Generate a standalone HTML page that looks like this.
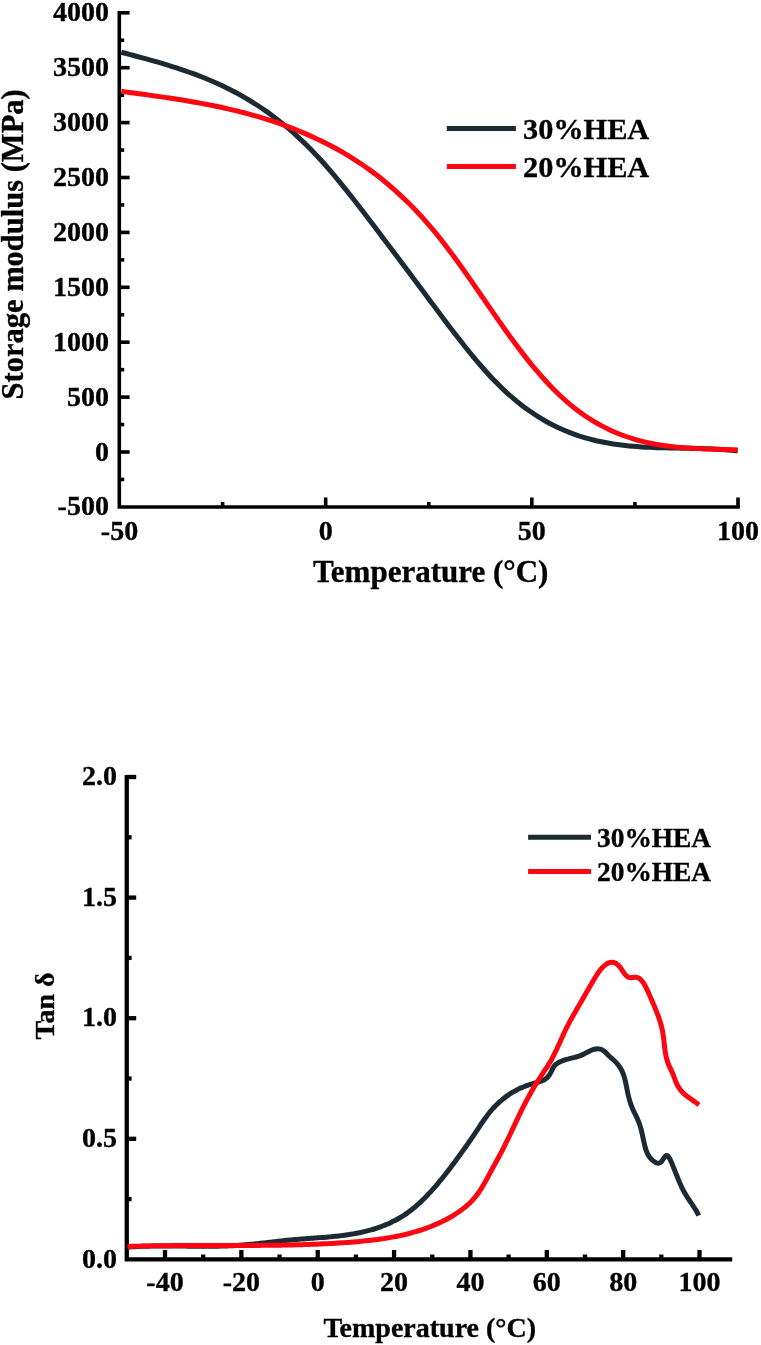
<!DOCTYPE html><html><head><meta charset="utf-8"><style>html,body{margin:0;padding:0;background:#fff;}svg{display:block;will-change:transform;}</style></head><body>
<svg width="761" height="1345" viewBox="0 0 761 1345">
<rect width="761" height="1345" fill="#fff"/>
<g stroke="#000" stroke-width="3.6" fill="none" stroke-linecap="butt">
<path d="M119.3,11 V508.8 M117.5,507 H739.8"/>
<path d="M119.3,452.00 H129.6"/>
<path d="M119.3,397.10 H129.6"/>
<path d="M119.3,342.20 H129.6"/>
<path d="M119.3,287.30 H129.6"/>
<path d="M119.3,232.40 H129.6"/>
<path d="M119.3,177.50 H129.6"/>
<path d="M119.3,122.60 H129.6"/>
<path d="M119.3,67.70 H129.6"/>
<path d="M119.3,12.80 H129.6"/>
<path d="M119.3,479.45 H124.2"/>
<path d="M119.3,424.55 H124.2"/>
<path d="M119.3,369.65 H124.2"/>
<path d="M119.3,314.75 H124.2"/>
<path d="M119.3,259.85 H124.2"/>
<path d="M119.3,204.95 H124.2"/>
<path d="M119.3,150.05 H124.2"/>
<path d="M119.3,95.15 H124.2"/>
<path d="M119.3,40.25 H124.2"/>
<path d="M325.67,507 V497.5"/>
<path d="M531.83,507 V497.5"/>
<path d="M738.00,507 V497.5"/>
<path d="M222.58,507 V502"/>
<path d="M428.75,507 V502"/>
<path d="M634.91,507 V502"/>
</g>
<g font-family="Liberation Serif" font-weight="bold" stroke="#000" stroke-width="0.35" font-size="28" fill="#000" text-anchor="end">
<text x="108.9" y="515.4">-500</text>
<text x="108.9" y="460.5">0</text>
<text x="108.9" y="405.6">500</text>
<text x="108.9" y="350.7">1000</text>
<text x="108.9" y="295.8">1500</text>
<text x="108.9" y="240.9">2000</text>
<text x="108.9" y="186.0">2500</text>
<text x="108.9" y="131.1">3000</text>
<text x="108.9" y="76.2">3500</text>
<text x="108.9" y="21.3">4000</text>
</g>
<g font-family="Liberation Serif" font-weight="bold" stroke="#000" stroke-width="0.35" font-size="28" fill="#000" text-anchor="middle">
<text x="119.5" y="540">-50</text>
<text x="325.7" y="540">0</text>
<text x="531.8" y="540">50</text>
<text x="738.0" y="540">100</text>
</g>
<text font-family="Liberation Serif" font-weight="bold" stroke="#000" stroke-width="0.35" font-size="31" x="313" y="581.5">Temperature (°C)</text>
<text font-family="Liberation Serif" font-weight="bold" stroke="#000" stroke-width="0.35" font-size="30.5" transform="translate(23.3,399.4) rotate(-90)">Storage modulus (MPa)</text>
<path d="M446.8,128.6 H515.9" stroke="#1c2a33" stroke-width="5"/>
<path d="M446.8,166.4 H515.9" stroke="#fd0511" stroke-width="5"/>
<text font-family="Liberation Serif" font-weight="bold" stroke="#000" stroke-width="0.35" font-size="30.3" x="523" y="139">30%HEA</text>
<text font-family="Liberation Serif" font-weight="bold" stroke="#000" stroke-width="0.35" font-size="30.3" x="523" y="177">20%HEA</text>
<path d="M121.30,52.22 C123.97,52.93 126.63,53.63 129.30,54.34 C131.97,55.05 134.63,55.76 137.30,56.48 C139.97,57.20 142.63,57.92 145.30,58.66 C147.97,59.39 150.63,60.13 153.30,60.89 C155.97,61.65 158.63,62.41 161.30,63.20 C163.97,63.99 166.63,64.79 169.30,65.61 C171.97,66.44 174.63,67.28 177.30,68.15 C179.97,69.02 182.63,69.91 185.30,70.83 C187.97,71.75 190.63,72.70 193.30,73.68 C195.97,74.67 198.63,75.68 201.30,76.73 C203.97,77.78 206.63,78.86 209.30,79.98 C211.97,81.11 214.63,82.27 217.30,83.48 C219.97,84.68 222.63,85.93 225.30,87.23 C227.97,88.52 230.63,89.86 233.30,91.26 C235.97,92.65 238.63,94.09 241.30,95.59 C243.97,97.09 246.63,98.64 249.30,100.25 C251.97,101.86 254.63,103.53 257.30,105.26 C259.97,106.99 262.63,108.78 265.30,110.63 C267.97,112.49 270.63,114.41 273.30,116.40 C275.97,118.40 278.63,120.45 281.30,122.59 C283.97,124.72 286.63,126.93 289.30,129.21 C291.97,131.49 294.63,133.85 297.30,136.29 C299.97,138.73 302.63,141.25 305.30,143.85 C307.97,146.46 310.63,149.14 313.30,151.92 C315.97,154.69 318.63,157.56 321.30,160.50 C323.97,163.45 326.63,166.48 329.30,169.57 C331.97,172.66 334.63,175.83 337.30,179.04 C339.97,182.26 342.63,185.55 345.30,188.87 C347.97,192.19 350.63,195.57 353.30,198.97 C355.97,202.38 358.63,205.83 361.30,209.29 C363.97,212.76 366.63,216.26 369.30,219.76 C371.97,223.27 374.63,226.79 377.30,230.32 C379.97,233.84 382.63,237.37 385.30,240.91 C387.97,244.44 390.63,247.98 393.30,251.53 C395.97,255.07 398.63,258.62 401.30,262.18 C403.97,265.74 406.63,269.30 409.30,272.86 C411.97,276.43 414.63,280.00 417.30,283.57 C419.97,287.15 422.63,290.73 425.30,294.32 C427.97,297.90 430.63,301.50 433.30,305.08 C435.97,308.66 438.63,312.25 441.30,315.80 C443.97,319.36 446.63,322.91 449.30,326.41 C451.97,329.92 454.63,333.41 457.30,336.84 C459.97,340.27 462.63,343.67 465.30,347.01 C467.97,350.34 470.63,353.63 473.30,356.84 C475.97,360.04 478.63,363.20 481.30,366.25 C483.97,369.31 486.63,372.30 489.30,375.19 C491.97,378.07 494.63,380.87 497.30,383.56 C499.97,386.24 502.63,388.83 505.30,391.30 C507.97,393.78 510.63,396.14 513.30,398.41 C515.97,400.68 518.63,402.84 521.30,404.90 C523.97,406.97 526.63,408.94 529.30,410.81 C531.97,412.69 534.63,414.46 537.30,416.16 C539.97,417.85 542.63,419.45 545.30,420.96 C547.97,422.48 550.63,423.91 553.30,425.25 C555.97,426.60 558.63,427.87 561.30,429.06 C563.97,430.25 566.63,431.36 569.30,432.40 C571.97,433.45 574.63,434.42 577.30,435.32 C579.97,436.23 582.63,437.06 585.30,437.84 C587.97,438.62 590.63,439.33 593.30,439.99 C595.97,440.65 598.63,441.25 601.30,441.81 C603.97,442.36 606.63,442.86 609.30,443.31 C611.97,443.77 614.63,444.18 617.30,444.55 C619.97,444.92 622.63,445.24 625.30,445.53 C627.97,445.83 630.63,446.08 633.30,446.31 C635.97,446.54 638.63,446.73 641.30,446.90 C643.97,447.07 646.63,447.21 649.30,447.34 C651.97,447.46 654.63,447.56 657.30,447.65 C659.97,447.74 662.63,447.81 665.30,447.87 C667.97,447.94 670.63,447.99 673.30,448.04 C675.97,448.09 678.63,448.13 681.30,448.17 C683.97,448.21 686.63,448.25 689.30,448.30 C691.97,448.35 694.63,448.40 697.30,448.47 C699.97,448.53 702.63,448.60 705.30,448.69 C707.97,448.78 710.63,448.88 713.30,449.01 C715.97,449.14 718.63,449.28 721.30,449.45 C723.97,449.62 726.58,449.81 729.30,450.04 C732.02,450.28 734.83,450.58 737.60,450.86" stroke="#1c2a33" stroke-width="5" fill="none"/>
<path d="M121.30,91.33 C123.97,91.69 126.63,92.05 129.30,92.41 C131.97,92.78 134.63,93.14 137.30,93.50 C139.97,93.86 142.63,94.23 145.30,94.59 C147.97,94.96 150.63,95.33 153.30,95.71 C155.97,96.09 158.63,96.47 161.30,96.85 C163.97,97.24 166.63,97.64 169.30,98.04 C171.97,98.44 174.63,98.85 177.30,99.27 C179.97,99.69 182.63,100.12 185.30,100.56 C187.97,101.01 190.63,101.46 193.30,101.92 C195.97,102.39 198.63,102.87 201.30,103.36 C203.97,103.86 206.63,104.37 209.30,104.89 C211.97,105.42 214.63,105.96 217.30,106.52 C219.97,107.08 222.63,107.65 225.30,108.25 C227.97,108.85 230.63,109.46 233.30,110.10 C235.97,110.74 238.63,111.39 241.30,112.08 C243.97,112.76 246.63,113.46 249.30,114.19 C251.97,114.92 254.63,115.67 257.30,116.45 C259.97,117.23 262.63,118.03 265.30,118.87 C267.97,119.70 270.63,120.56 273.30,121.45 C275.97,122.34 278.63,123.26 281.30,124.21 C283.97,125.16 286.63,126.14 289.30,127.15 C291.97,128.16 294.63,129.21 297.30,130.29 C299.97,131.37 302.63,132.48 305.30,133.63 C307.97,134.78 310.63,135.97 313.30,137.19 C315.97,138.41 318.63,139.67 321.30,140.98 C323.97,142.28 326.63,143.62 329.30,145.00 C331.97,146.39 334.63,147.82 337.30,149.30 C339.97,150.78 342.63,152.31 345.30,153.89 C347.97,155.47 350.63,157.10 353.30,158.79 C355.97,160.48 358.63,162.22 361.30,164.03 C363.97,165.83 366.63,167.69 369.30,169.62 C371.97,171.55 374.63,173.54 377.30,175.60 C379.97,177.66 382.63,179.79 385.30,181.99 C387.97,184.19 390.63,186.46 393.30,188.80 C395.97,191.15 398.63,193.57 401.30,196.07 C403.97,198.57 406.63,201.15 409.30,203.81 C411.97,206.47 414.63,209.21 417.30,212.05 C419.97,214.88 422.63,217.80 425.30,220.81 C427.97,223.82 430.63,226.91 433.30,230.11 C435.97,233.30 438.63,236.60 441.30,239.98 C443.97,243.36 446.63,246.85 449.30,250.39 C451.97,253.94 454.63,257.58 457.30,261.26 C459.97,264.94 462.63,268.70 465.30,272.48 C467.97,276.25 470.63,280.09 473.30,283.93 C475.97,287.77 478.63,291.64 481.30,295.51 C483.97,299.37 486.63,303.26 489.30,307.11 C491.97,310.97 494.63,314.83 497.30,318.63 C499.97,322.44 502.63,326.24 505.30,329.96 C507.97,333.69 510.63,337.38 513.30,341.00 C515.97,344.61 518.63,348.16 521.30,351.63 C523.97,355.10 526.63,358.50 529.30,361.81 C531.97,365.12 534.63,368.34 537.30,371.47 C539.97,374.59 542.63,377.63 545.30,380.55 C547.97,383.47 550.63,386.29 553.30,388.99 C555.97,391.69 558.63,394.28 561.30,396.75 C563.97,399.22 566.63,401.58 569.30,403.82 C571.97,406.06 574.63,408.19 577.30,410.21 C579.97,412.24 582.63,414.15 585.30,415.96 C587.97,417.77 590.63,419.48 593.30,421.10 C595.97,422.71 598.63,424.23 601.30,425.66 C603.97,427.09 606.63,428.42 609.30,429.68 C611.97,430.94 614.63,432.10 617.30,433.20 C619.97,434.29 622.63,435.30 625.30,436.25 C627.97,437.19 630.63,438.06 633.30,438.87 C635.97,439.67 638.63,440.41 641.30,441.09 C643.97,441.77 646.63,442.39 649.30,442.95 C651.97,443.52 654.63,444.03 657.30,444.49 C659.97,444.95 662.63,445.37 665.30,445.74 C667.97,446.11 670.63,446.44 673.30,446.74 C675.97,447.03 678.63,447.29 681.30,447.51 C683.97,447.74 686.63,447.94 689.30,448.11 C691.97,448.29 694.63,448.43 697.30,448.56 C699.97,448.70 702.63,448.80 705.30,448.91 C707.97,449.01 710.63,449.09 713.30,449.17 C715.97,449.26 718.63,449.33 721.30,449.40 C723.97,449.48 726.58,449.55 729.30,449.63 C732.02,449.71 734.83,449.81 737.60,449.90" stroke="#fd0511" stroke-width="5" fill="none"/>
<g stroke="#000" stroke-width="4.3" fill="none">
<path d="M126.75,775.1 V1261.5500000000002 M124.6,1259.4 H732.2"/>
<path d="M126.75,1138.80 H136.2"/>
<path d="M126.75,1018.20 H136.2"/>
<path d="M126.75,897.60 H136.2"/>
<path d="M126.75,777.00 H136.2"/>
<path d="M126.75,1199.10 H131.6"/>
<path d="M126.75,1078.50 H131.6"/>
<path d="M126.75,957.90 H131.6"/>
<path d="M126.75,837.30 H131.6"/>
<path d="M165.00,1259.4 V1250"/>
<path d="M241.36,1259.4 V1250"/>
<path d="M317.72,1259.4 V1250"/>
<path d="M394.08,1259.4 V1250"/>
<path d="M470.44,1259.4 V1250"/>
<path d="M546.80,1259.4 V1250"/>
<path d="M623.16,1259.4 V1250"/>
<path d="M699.52,1259.4 V1250"/>
<path d="M203.18,1259.4 V1254.5"/>
<path d="M279.54,1259.4 V1254.5"/>
<path d="M355.90,1259.4 V1254.5"/>
<path d="M432.26,1259.4 V1254.5"/>
<path d="M508.62,1259.4 V1254.5"/>
<path d="M584.98,1259.4 V1254.5"/>
<path d="M661.34,1259.4 V1254.5"/>
</g>
<g font-family="Liberation Serif" font-weight="bold" stroke="#000" stroke-width="0.35" font-size="28" fill="#000" text-anchor="end">
<text x="117" y="1267.6">0.0</text>
<text x="117" y="1147.0">0.5</text>
<text x="117" y="1026.4">1.0</text>
<text x="117" y="905.8">1.5</text>
<text x="117" y="785.2">2.0</text>
</g>
<g font-family="Liberation Serif" font-weight="bold" stroke="#000" stroke-width="0.35" font-size="28" fill="#000" text-anchor="middle">
<text x="165.0" y="1290.6">-40</text>
<text x="241.4" y="1290.6">-20</text>
<text x="317.7" y="1290.6">0</text>
<text x="394.1" y="1290.6">20</text>
<text x="470.4" y="1290.6">40</text>
<text x="546.8" y="1290.6">60</text>
<text x="623.2" y="1290.6">80</text>
<text x="699.5" y="1290.6">100</text>
</g>
<text font-family="Liberation Serif" font-weight="bold" stroke="#000" stroke-width="0.35" font-size="28" x="323.5" y="1337">Temperature (°C)</text>
<text font-family="Liberation Serif" font-weight="bold" stroke="#000" stroke-width="0.35" font-size="28" transform="translate(53.9,1039.6) rotate(-90)">Tan δ</text>
<path d="M528.1,837.2 H591" stroke="#1c2a33" stroke-width="5"/>
<path d="M528.1,871.4 H591" stroke="#fd0511" stroke-width="5"/>
<text font-family="Liberation Serif" font-weight="bold" stroke="#000" stroke-width="0.35" font-size="27.4" x="597" y="846.5">30%HEA</text>
<text font-family="Liberation Serif" font-weight="bold" stroke="#000" stroke-width="0.35" font-size="27.4" x="597" y="881">20%HEA</text>
<path d="M127.50,1247.20 C128.50,1247.13 129.49,1247.05 130.49,1246.98 C131.49,1246.91 132.48,1246.84 133.48,1246.78 C134.48,1246.72 135.48,1246.67 136.48,1246.61 C137.48,1246.56 138.48,1246.51 139.48,1246.47 C140.48,1246.42 141.48,1246.38 142.49,1246.34 C143.49,1246.30 144.49,1246.27 145.49,1246.24 C146.50,1246.21 147.50,1246.18 148.51,1246.15 C149.51,1246.13 150.52,1246.11 151.52,1246.09 C152.53,1246.07 153.53,1246.05 154.54,1246.04 C155.55,1246.02 156.55,1246.01 157.56,1246.00 C158.57,1245.99 159.58,1245.99 160.58,1245.98 C161.59,1245.98 162.60,1245.97 163.61,1245.97 C164.62,1245.97 165.63,1245.97 166.64,1245.97 C167.65,1245.97 168.66,1245.98 169.67,1245.98 C170.68,1245.99 171.69,1245.99 172.70,1246.00 C173.71,1246.01 174.72,1246.01 175.73,1246.02 C176.74,1246.03 177.75,1246.04 178.76,1246.05 C179.78,1246.06 180.79,1246.07 181.80,1246.08 C182.81,1246.09 183.82,1246.10 184.83,1246.11 C185.85,1246.12 186.86,1246.14 187.87,1246.15 C188.88,1246.16 189.89,1246.17 190.91,1246.18 C191.92,1246.19 192.93,1246.20 193.94,1246.21 C194.96,1246.21 195.97,1246.22 196.98,1246.23 C197.99,1246.24 199.00,1246.24 200.02,1246.25 C201.03,1246.25 202.04,1246.26 203.05,1246.26 C204.06,1246.26 205.07,1246.26 206.09,1246.26 C207.10,1246.26 208.11,1246.26 209.12,1246.25 C210.13,1246.25 211.14,1246.24 212.15,1246.23 C213.16,1246.23 214.17,1246.21 215.18,1246.20 C216.19,1246.19 217.20,1246.17 218.21,1246.15 C219.22,1246.14 220.23,1246.11 221.24,1246.09 C222.25,1246.07 223.26,1246.04 224.27,1246.01 C225.27,1245.98 226.28,1245.95 227.29,1245.91 C228.30,1245.87 229.30,1245.83 230.31,1245.79 C231.32,1245.74 232.32,1245.70 233.33,1245.65 C234.33,1245.59 235.34,1245.54 236.34,1245.48 C237.35,1245.42 238.35,1245.36 239.36,1245.29 C240.36,1245.22 241.36,1245.15 242.36,1245.07 C243.37,1244.99 244.37,1244.91 245.37,1244.83 C246.37,1244.74 247.37,1244.65 248.37,1244.56 C249.37,1244.47 250.37,1244.38 251.37,1244.28 C252.37,1244.18 253.37,1244.08 254.37,1243.98 C255.37,1243.87 256.37,1243.77 257.37,1243.66 C258.37,1243.55 259.37,1243.44 260.37,1243.33 C261.37,1243.22 262.37,1243.11 263.36,1243.00 C264.36,1242.88 265.36,1242.77 266.36,1242.66 C267.36,1242.54 268.36,1242.42 269.36,1242.31 C270.36,1242.19 271.35,1242.08 272.35,1241.96 C273.35,1241.85 274.35,1241.73 275.35,1241.62 C276.35,1241.50 277.35,1241.39 278.35,1241.27 C279.35,1241.16 280.35,1241.05 281.35,1240.94 C282.36,1240.83 283.36,1240.72 284.36,1240.61 C285.36,1240.51 286.36,1240.40 287.37,1240.30 C288.37,1240.20 289.37,1240.10 290.38,1240.00 C291.38,1239.90 292.38,1239.81 293.39,1239.72 C294.40,1239.63 295.40,1239.54 296.41,1239.45 C297.41,1239.37 298.42,1239.28 299.43,1239.20 C300.44,1239.12 301.44,1239.04 302.45,1238.97 C303.46,1238.89 304.47,1238.81 305.48,1238.74 C306.49,1238.66 307.50,1238.59 308.50,1238.52 C309.51,1238.44 310.52,1238.37 311.53,1238.30 C312.54,1238.23 313.55,1238.15 314.56,1238.08 C315.57,1238.01 316.58,1237.93 317.59,1237.86 C318.59,1237.78 319.60,1237.71 320.61,1237.63 C321.62,1237.55 322.63,1237.48 323.63,1237.39 C324.64,1237.31 325.65,1237.23 326.65,1237.15 C327.66,1237.06 328.66,1236.97 329.67,1236.88 C330.67,1236.79 331.68,1236.70 332.68,1236.60 C333.69,1236.50 334.69,1236.40 335.69,1236.29 C336.69,1236.19 337.69,1236.08 338.69,1235.96 C339.69,1235.85 340.69,1235.73 341.69,1235.61 C342.69,1235.48 343.68,1235.36 344.68,1235.22 C345.67,1235.09 346.67,1234.95 347.66,1234.80 C348.65,1234.65 349.64,1234.50 350.63,1234.34 C351.62,1234.18 352.61,1234.02 353.60,1233.85 C354.59,1233.67 355.57,1233.49 356.56,1233.31 C357.54,1233.12 358.52,1232.92 359.50,1232.72 C360.48,1232.52 361.46,1232.30 362.44,1232.08 C363.41,1231.86 364.39,1231.64 365.36,1231.40 C366.34,1231.16 367.31,1230.91 368.28,1230.66 C369.24,1230.40 370.21,1230.13 371.17,1229.86 C372.14,1229.58 373.10,1229.29 374.06,1228.99 C375.02,1228.70 375.98,1228.39 376.93,1228.07 C377.89,1227.75 378.84,1227.42 379.79,1227.08 C380.74,1226.73 381.69,1226.38 382.63,1226.02 C383.57,1225.65 384.51,1225.28 385.45,1224.89 C386.38,1224.50 387.32,1224.10 388.24,1223.69 C389.17,1223.28 390.09,1222.86 391.00,1222.43 C391.92,1221.99 392.83,1221.55 393.73,1221.09 C394.64,1220.63 395.54,1220.17 396.43,1219.69 C397.32,1219.21 398.20,1218.71 399.08,1218.21 C399.96,1217.71 400.83,1217.19 401.69,1216.67 C402.55,1216.14 403.41,1215.60 404.25,1215.05 C405.10,1214.50 405.93,1213.94 406.76,1213.36 C407.59,1212.79 408.41,1212.20 409.22,1211.60 C410.02,1211.00 410.82,1210.39 411.61,1209.77 C412.40,1209.15 413.19,1208.52 413.96,1207.88 C414.73,1207.24 415.50,1206.59 416.25,1205.93 C417.01,1205.27 417.76,1204.60 418.50,1203.92 C419.25,1203.24 419.98,1202.56 420.71,1201.87 C421.44,1201.18 422.16,1200.48 422.88,1199.77 C423.60,1199.07 424.31,1198.36 425.01,1197.64 C425.72,1196.93 426.42,1196.21 427.12,1195.48 C427.81,1194.75 428.51,1194.02 429.19,1193.29 C429.88,1192.56 430.56,1191.82 431.24,1191.07 C431.92,1190.33 432.59,1189.58 433.26,1188.83 C433.93,1188.08 434.59,1187.32 435.25,1186.56 C435.91,1185.80 436.57,1185.04 437.22,1184.27 C437.88,1183.51 438.53,1182.74 439.17,1181.96 C439.82,1181.19 440.46,1180.41 441.10,1179.63 C441.73,1178.85 442.37,1178.07 443.00,1177.28 C443.63,1176.50 444.26,1175.71 444.89,1174.92 C445.51,1174.13 446.14,1173.33 446.76,1172.54 C447.38,1171.74 447.99,1170.94 448.61,1170.14 C449.22,1169.34 449.83,1168.54 450.44,1167.74 C451.05,1166.93 451.66,1166.12 452.27,1165.32 C452.87,1164.51 453.47,1163.70 454.08,1162.89 C454.68,1162.08 455.28,1161.27 455.87,1160.46 C456.47,1159.64 457.07,1158.83 457.66,1158.01 C458.26,1157.20 458.85,1156.38 459.44,1155.57 C460.03,1154.75 460.62,1153.93 461.21,1153.12 C461.80,1152.30 462.39,1151.48 462.97,1150.66 C463.56,1149.84 464.14,1149.02 464.72,1148.20 C465.30,1147.37 465.88,1146.55 466.46,1145.73 C467.04,1144.90 467.62,1144.08 468.19,1143.25 C468.77,1142.43 469.34,1141.60 469.91,1140.77 C470.49,1139.95 471.06,1139.12 471.62,1138.29 C472.19,1137.46 472.76,1136.63 473.32,1135.79 C473.88,1134.96 474.45,1134.13 475.01,1133.29 C475.57,1132.46 476.13,1131.62 476.68,1130.79 C477.24,1129.95 477.79,1129.11 478.35,1128.28 C478.90,1127.44 479.46,1126.60 480.02,1125.77 C480.57,1124.93 481.13,1124.10 481.70,1123.27 C482.26,1122.44 482.83,1121.61 483.40,1120.78 C483.97,1119.96 484.55,1119.14 485.14,1118.33 C485.72,1117.51 486.31,1116.70 486.92,1115.90 C487.52,1115.10 488.13,1114.30 488.75,1113.51 C489.37,1112.73 490.01,1111.94 490.65,1111.17 C491.30,1110.40 491.96,1109.64 492.63,1108.89 C493.30,1108.14 493.99,1107.39 494.69,1106.66 C495.39,1105.93 496.10,1105.21 496.83,1104.50 C497.56,1103.80 498.30,1103.10 499.05,1102.42 C499.80,1101.73 500.56,1101.06 501.34,1100.40 C502.12,1099.75 502.90,1099.10 503.70,1098.47 C504.50,1097.84 505.31,1097.23 506.12,1096.63 C506.94,1096.03 507.77,1095.44 508.61,1094.87 C509.45,1094.30 510.30,1093.75 511.15,1093.21 C512.01,1092.67 512.88,1092.15 513.75,1091.65 C514.62,1091.15 515.51,1090.66 516.40,1090.20 C517.29,1089.73 518.18,1089.28 519.09,1088.85 C519.99,1088.42 520.90,1088.01 521.82,1087.62 C522.74,1087.22 523.66,1086.85 524.59,1086.48 C525.52,1086.12 526.46,1085.77 527.40,1085.43 C528.34,1085.10 529.29,1084.77 530.24,1084.46 C531.19,1084.14 532.15,1083.84 533.11,1083.54 C534.07,1083.24 535.04,1082.95 536.01,1082.67 C536.98,1082.38 537.96,1082.12 538.93,1081.82 C539.90,1081.53 540.88,1081.26 541.81,1080.90 C542.74,1080.54 543.67,1080.17 544.52,1079.67 C545.38,1079.17 546.19,1078.59 546.93,1077.91 C547.67,1077.22 548.35,1076.41 548.97,1075.58 C549.58,1074.75 550.11,1073.82 550.61,1072.90 C551.11,1071.99 551.50,1071.01 551.96,1070.10 C552.41,1069.19 552.82,1068.25 553.35,1067.42 C553.88,1066.58 554.45,1065.79 555.14,1065.09 C555.82,1064.39 556.63,1063.78 557.45,1063.22 C558.28,1062.67 559.19,1062.19 560.10,1061.75 C561.01,1061.31 561.95,1060.93 562.90,1060.58 C563.85,1060.23 564.81,1059.93 565.78,1059.64 C566.75,1059.36 567.74,1059.11 568.72,1058.85 C569.70,1058.60 570.70,1058.37 571.68,1058.13 C572.66,1057.89 573.65,1057.66 574.62,1057.40 C575.60,1057.14 576.57,1056.88 577.52,1056.57 C578.47,1056.27 579.41,1055.94 580.34,1055.58 C581.26,1055.21 582.16,1054.80 583.07,1054.37 C583.97,1053.95 584.86,1053.49 585.77,1053.03 C586.67,1052.58 587.57,1052.10 588.50,1051.65 C589.43,1051.19 590.38,1050.71 591.34,1050.31 C592.30,1049.91 593.29,1049.49 594.28,1049.23 C595.26,1048.96 596.26,1048.73 597.25,1048.70 C598.23,1048.67 599.23,1048.78 600.17,1049.04 C601.12,1049.30 602.06,1049.76 602.91,1050.27 C603.76,1050.79 604.53,1051.46 605.28,1052.14 C606.03,1052.81 606.70,1053.60 607.42,1054.32 C608.13,1055.05 608.83,1055.79 609.57,1056.49 C610.31,1057.18 611.10,1057.82 611.86,1058.49 C612.62,1059.15 613.40,1059.78 614.14,1060.47 C614.88,1061.16 615.60,1061.86 616.28,1062.60 C616.96,1063.34 617.61,1064.11 618.22,1064.91 C618.84,1065.71 619.42,1066.53 619.96,1067.38 C620.50,1068.22 621.01,1069.09 621.47,1069.98 C621.94,1070.87 622.36,1071.78 622.74,1072.70 C623.13,1073.62 623.47,1074.56 623.79,1075.51 C624.11,1076.46 624.39,1077.43 624.66,1078.40 C624.92,1079.37 625.16,1080.35 625.39,1081.34 C625.62,1082.33 625.82,1083.32 626.02,1084.32 C626.23,1085.31 626.42,1086.31 626.62,1087.31 C626.81,1088.31 627.00,1089.31 627.21,1090.30 C627.41,1091.29 627.61,1092.28 627.83,1093.27 C628.05,1094.26 628.27,1095.24 628.51,1096.22 C628.75,1097.20 628.99,1098.17 629.26,1099.14 C629.52,1100.10 629.80,1101.07 630.10,1102.02 C630.40,1102.98 630.72,1103.92 631.06,1104.86 C631.40,1105.81 631.77,1106.74 632.15,1107.66 C632.54,1108.59 632.95,1109.50 633.37,1110.42 C633.79,1111.33 634.23,1112.24 634.67,1113.15 C635.11,1114.05 635.56,1114.96 635.99,1115.87 C636.43,1116.78 636.87,1117.69 637.29,1118.61 C637.70,1119.53 638.11,1120.45 638.49,1121.38 C638.87,1122.32 639.23,1123.26 639.56,1124.21 C639.89,1125.17 640.19,1126.13 640.47,1127.10 C640.76,1128.07 641.02,1129.05 641.27,1130.03 C641.52,1131.01 641.75,1132.00 641.98,1132.99 C642.20,1133.98 642.42,1134.97 642.63,1135.96 C642.84,1136.95 643.05,1137.95 643.26,1138.94 C643.47,1139.92 643.68,1140.91 643.90,1141.90 C644.12,1142.88 644.34,1143.86 644.58,1144.83 C644.82,1145.80 645.07,1146.76 645.34,1147.72 C645.61,1148.67 645.89,1149.62 646.22,1150.54 C646.54,1151.47 646.89,1152.39 647.31,1153.28 C647.73,1154.18 648.19,1155.06 648.73,1155.91 C649.27,1156.76 649.87,1157.59 650.58,1158.39 C651.28,1159.18 652.09,1159.99 652.94,1160.68 C653.80,1161.36 654.78,1162.06 655.69,1162.49 C656.61,1162.92 657.59,1163.27 658.44,1163.25 C659.28,1163.23 660.07,1162.94 660.77,1162.38 C661.47,1161.83 662.01,1160.81 662.64,1159.93 C663.26,1159.05 663.89,1157.83 664.52,1157.10 C665.15,1156.36 665.81,1155.67 666.42,1155.52 C667.02,1155.38 667.59,1155.72 668.14,1156.23 C668.68,1156.73 669.19,1157.65 669.68,1158.54 C670.17,1159.42 670.63,1160.55 671.09,1161.56 C671.54,1162.57 671.97,1163.61 672.39,1164.61 C672.81,1165.62 673.21,1166.61 673.61,1167.60 C674.01,1168.58 674.39,1169.55 674.77,1170.51 C675.15,1171.48 675.52,1172.43 675.89,1173.37 C676.26,1174.31 676.62,1175.25 676.99,1176.18 C677.36,1177.10 677.72,1178.02 678.09,1178.93 C678.46,1179.84 678.83,1180.75 679.21,1181.65 C679.59,1182.55 679.97,1183.44 680.37,1184.33 C680.76,1185.22 681.17,1186.10 681.59,1186.98 C682.01,1187.86 682.44,1188.73 682.89,1189.60 C683.34,1190.48 683.80,1191.34 684.29,1192.21 C684.78,1193.08 685.29,1193.94 685.81,1194.81 C686.34,1195.67 686.89,1196.53 687.45,1197.39 C688.01,1198.25 688.59,1199.12 689.17,1199.98 C689.75,1200.84 690.34,1201.70 690.92,1202.55 C691.50,1203.41 692.09,1204.27 692.66,1205.13 C693.23,1205.99 693.81,1206.85 694.35,1207.72 C694.90,1208.58 695.44,1209.44 695.95,1210.30 C696.46,1211.17 696.96,1212.03 697.42,1212.90 C697.87,1213.76 698.27,1214.63 698.70,1215.50" stroke="#1c2a33" stroke-width="5" fill="none"/>
<path d="M127.50,1246.52 C128.51,1246.48 129.51,1246.45 130.51,1246.42 C131.52,1246.38 132.52,1246.35 133.53,1246.32 C134.53,1246.29 135.54,1246.26 136.54,1246.23 C137.55,1246.21 138.55,1246.18 139.55,1246.15 C140.56,1246.13 141.56,1246.10 142.57,1246.08 C143.57,1246.05 144.58,1246.03 145.58,1246.01 C146.59,1245.98 147.59,1245.96 148.60,1245.94 C149.60,1245.92 150.61,1245.90 151.61,1245.88 C152.62,1245.87 153.62,1245.85 154.63,1245.83 C155.63,1245.81 156.64,1245.80 157.64,1245.78 C158.65,1245.77 159.65,1245.75 160.66,1245.74 C161.66,1245.72 162.67,1245.71 163.67,1245.70 C164.68,1245.69 165.68,1245.67 166.69,1245.66 C167.69,1245.65 168.70,1245.64 169.70,1245.63 C170.71,1245.62 171.72,1245.61 172.72,1245.60 C173.73,1245.60 174.73,1245.59 175.74,1245.58 C176.74,1245.57 177.75,1245.57 178.75,1245.56 C179.76,1245.55 180.76,1245.55 181.77,1245.54 C182.78,1245.54 183.78,1245.53 184.79,1245.53 C185.79,1245.52 186.80,1245.52 187.80,1245.51 C188.81,1245.51 189.82,1245.51 190.82,1245.50 C191.83,1245.50 192.83,1245.50 193.84,1245.50 C194.84,1245.49 195.85,1245.49 196.86,1245.49 C197.86,1245.49 198.87,1245.49 199.87,1245.48 C200.88,1245.48 201.88,1245.48 202.89,1245.48 C203.90,1245.48 204.90,1245.48 205.91,1245.48 C206.91,1245.48 207.92,1245.48 208.92,1245.48 C209.93,1245.48 210.94,1245.48 211.94,1245.48 C212.95,1245.48 213.95,1245.48 214.96,1245.48 C215.96,1245.48 216.97,1245.48 217.98,1245.48 C218.98,1245.48 219.99,1245.48 220.99,1245.48 C222.00,1245.48 223.01,1245.48 224.01,1245.48 C225.02,1245.48 226.02,1245.48 227.03,1245.48 C228.03,1245.48 229.04,1245.48 230.05,1245.48 C231.05,1245.48 232.06,1245.48 233.06,1245.48 C234.07,1245.48 235.07,1245.47 236.08,1245.47 C237.09,1245.47 238.09,1245.47 239.10,1245.47 C240.10,1245.47 241.11,1245.47 242.11,1245.46 C243.12,1245.46 244.13,1245.46 245.13,1245.46 C246.14,1245.45 247.14,1245.45 248.15,1245.45 C249.15,1245.44 250.16,1245.44 251.17,1245.43 C252.17,1245.43 253.18,1245.42 254.18,1245.42 C255.19,1245.41 256.19,1245.41 257.20,1245.40 C258.20,1245.39 259.21,1245.39 260.22,1245.38 C261.22,1245.37 262.23,1245.37 263.23,1245.36 C264.24,1245.35 265.24,1245.34 266.25,1245.33 C267.25,1245.32 268.26,1245.31 269.26,1245.30 C270.27,1245.29 271.27,1245.28 272.28,1245.26 C273.28,1245.25 274.29,1245.24 275.29,1245.23 C276.30,1245.21 277.30,1245.20 278.31,1245.18 C279.31,1245.17 280.32,1245.15 281.33,1245.13 C282.33,1245.12 283.34,1245.10 284.34,1245.08 C285.34,1245.06 286.35,1245.04 287.35,1245.02 C288.36,1245.00 289.36,1244.98 290.37,1244.96 C291.37,1244.94 292.38,1244.91 293.38,1244.89 C294.39,1244.87 295.39,1244.84 296.40,1244.82 C297.40,1244.79 298.41,1244.76 299.41,1244.74 C300.42,1244.71 301.42,1244.68 302.42,1244.65 C303.43,1244.62 304.43,1244.59 305.44,1244.56 C306.44,1244.52 307.45,1244.49 308.45,1244.46 C309.45,1244.42 310.46,1244.39 311.46,1244.35 C312.47,1244.31 313.47,1244.27 314.47,1244.23 C315.48,1244.20 316.48,1244.15 317.49,1244.11 C318.49,1244.07 319.49,1244.03 320.50,1243.98 C321.50,1243.94 322.50,1243.89 323.51,1243.85 C324.51,1243.80 325.52,1243.75 326.52,1243.70 C327.52,1243.65 328.53,1243.60 329.53,1243.55 C330.53,1243.49 331.54,1243.44 332.54,1243.38 C333.54,1243.33 334.55,1243.27 335.55,1243.21 C336.55,1243.15 337.55,1243.09 338.56,1243.02 C339.56,1242.96 340.56,1242.90 341.57,1242.83 C342.57,1242.76 343.57,1242.69 344.57,1242.62 C345.58,1242.55 346.58,1242.48 347.58,1242.40 C348.59,1242.33 349.59,1242.25 350.59,1242.17 C351.59,1242.09 352.60,1242.01 353.60,1241.93 C354.60,1241.85 355.60,1241.76 356.60,1241.67 C357.61,1241.59 358.61,1241.50 359.61,1241.40 C360.61,1241.31 361.61,1241.22 362.62,1241.12 C363.62,1241.02 364.62,1240.92 365.62,1240.82 C366.62,1240.72 367.62,1240.61 368.63,1240.50 C369.63,1240.40 370.63,1240.28 371.63,1240.17 C372.63,1240.05 373.63,1239.94 374.63,1239.81 C375.63,1239.69 376.62,1239.57 377.62,1239.43 C378.62,1239.30 379.62,1239.17 380.61,1239.03 C381.61,1238.89 382.61,1238.75 383.60,1238.60 C384.60,1238.45 385.59,1238.30 386.58,1238.14 C387.58,1237.99 388.57,1237.82 389.56,1237.65 C390.55,1237.49 391.54,1237.31 392.53,1237.13 C393.52,1236.95 394.50,1236.77 395.49,1236.58 C396.47,1236.39 397.46,1236.19 398.44,1235.99 C399.43,1235.78 400.41,1235.57 401.39,1235.36 C402.37,1235.14 403.35,1234.92 404.32,1234.69 C405.30,1234.46 406.27,1234.22 407.25,1233.98 C408.22,1233.74 409.19,1233.48 410.16,1233.23 C411.13,1232.97 412.10,1232.71 413.07,1232.43 C414.03,1232.16 415.00,1231.88 415.96,1231.60 C416.92,1231.31 417.88,1231.02 418.83,1230.71 C419.79,1230.41 420.75,1230.10 421.70,1229.79 C422.65,1229.47 423.60,1229.14 424.55,1228.81 C425.50,1228.48 426.44,1228.14 427.38,1227.79 C428.33,1227.44 429.27,1227.08 430.20,1226.72 C431.14,1226.35 432.07,1225.98 433.00,1225.60 C433.94,1225.21 434.86,1224.82 435.79,1224.42 C436.72,1224.02 437.64,1223.62 438.56,1223.20 C439.48,1222.78 440.39,1222.36 441.31,1221.92 C442.22,1221.49 443.13,1221.04 444.03,1220.59 C444.94,1220.13 445.84,1219.67 446.73,1219.20 C447.63,1218.73 448.52,1218.24 449.40,1217.75 C450.28,1217.26 451.16,1216.75 452.03,1216.24 C452.89,1215.72 453.76,1215.20 454.61,1214.66 C455.46,1214.13 456.31,1213.58 457.15,1213.02 C457.98,1212.46 458.81,1211.89 459.63,1211.31 C460.45,1210.73 461.26,1210.14 462.06,1209.53 C462.85,1208.92 463.64,1208.31 464.42,1207.68 C465.19,1207.05 465.96,1206.40 466.71,1205.75 C467.46,1205.09 468.20,1204.42 468.93,1203.74 C469.66,1203.06 470.37,1202.36 471.07,1201.66 C471.77,1200.95 472.45,1200.22 473.12,1199.49 C473.79,1198.75 474.45,1198.00 475.09,1197.23 C475.73,1196.47 476.35,1195.69 476.96,1194.90 C477.57,1194.10 478.16,1193.29 478.74,1192.47 C479.32,1191.65 479.88,1190.82 480.43,1189.97 C480.98,1189.13 481.52,1188.28 482.05,1187.41 C482.58,1186.55 483.10,1185.68 483.61,1184.80 C484.12,1183.93 484.62,1183.04 485.12,1182.15 C485.61,1181.27 486.10,1180.37 486.59,1179.48 C487.07,1178.58 487.55,1177.68 488.03,1176.78 C488.51,1175.88 488.98,1174.98 489.46,1174.08 C489.94,1173.19 490.41,1172.29 490.88,1171.39 C491.36,1170.50 491.84,1169.61 492.32,1168.72 C492.80,1167.83 493.28,1166.95 493.76,1166.07 C494.25,1165.19 494.73,1164.32 495.21,1163.44 C495.70,1162.56 496.18,1161.69 496.67,1160.82 C497.15,1159.94 497.63,1159.07 498.11,1158.19 C498.59,1157.32 499.06,1156.44 499.54,1155.56 C500.01,1154.68 500.48,1153.80 500.94,1152.92 C501.41,1152.03 501.87,1151.15 502.33,1150.26 C502.79,1149.37 503.24,1148.48 503.69,1147.58 C504.14,1146.69 504.59,1145.79 505.04,1144.89 C505.48,1143.99 505.92,1143.09 506.36,1142.19 C506.81,1141.29 507.24,1140.38 507.68,1139.48 C508.12,1138.57 508.55,1137.67 508.98,1136.76 C509.42,1135.85 509.85,1134.94 510.28,1134.03 C510.71,1133.12 511.14,1132.21 511.57,1131.30 C512.00,1130.39 512.43,1129.48 512.86,1128.57 C513.29,1127.65 513.71,1126.74 514.14,1125.83 C514.57,1124.92 515.00,1124.00 515.43,1123.09 C515.86,1122.18 516.29,1121.27 516.72,1120.36 C517.15,1119.45 517.58,1118.53 518.02,1117.63 C518.45,1116.72 518.89,1115.81 519.32,1114.90 C519.76,1113.99 520.20,1113.08 520.64,1112.18 C521.08,1111.27 521.53,1110.37 521.97,1109.47 C522.42,1108.56 522.87,1107.66 523.32,1106.76 C523.77,1105.87 524.23,1104.97 524.69,1104.07 C525.14,1103.18 525.61,1102.29 526.07,1101.40 C526.54,1100.51 527.01,1099.62 527.48,1098.73 C527.96,1097.85 528.44,1096.97 528.92,1096.09 C529.40,1095.21 529.89,1094.33 530.38,1093.45 C530.87,1092.58 531.36,1091.71 531.86,1090.84 C532.36,1089.97 532.87,1089.10 533.38,1088.24 C533.89,1087.37 534.40,1086.51 534.92,1085.65 C535.44,1084.79 535.96,1083.94 536.49,1083.08 C537.02,1082.23 537.55,1081.38 538.09,1080.53 C538.63,1079.68 539.18,1078.84 539.73,1078.00 C540.28,1077.16 540.84,1076.32 541.40,1075.48 C541.95,1074.64 542.52,1073.81 543.08,1072.97 C543.64,1072.14 544.21,1071.30 544.77,1070.47 C545.33,1069.63 545.88,1068.79 546.43,1067.95 C546.98,1067.11 547.53,1066.26 548.06,1065.41 C548.60,1064.56 549.12,1063.70 549.63,1062.84 C550.15,1061.98 550.65,1061.11 551.14,1060.23 C551.63,1059.36 552.10,1058.47 552.57,1057.59 C553.04,1056.70 553.50,1055.81 553.95,1054.91 C554.40,1054.01 554.84,1053.11 555.28,1052.21 C555.72,1051.30 556.15,1050.40 556.58,1049.48 C557.00,1048.57 557.42,1047.66 557.84,1046.75 C558.26,1045.83 558.67,1044.91 559.09,1043.99 C559.50,1043.08 559.91,1042.16 560.33,1041.24 C560.74,1040.32 561.15,1039.40 561.56,1038.48 C561.98,1037.56 562.39,1036.64 562.81,1035.73 C563.23,1034.81 563.65,1033.90 564.08,1032.98 C564.50,1032.07 564.93,1031.16 565.37,1030.25 C565.81,1029.35 566.25,1028.44 566.70,1027.54 C567.15,1026.65 567.61,1025.75 568.08,1024.86 C568.54,1023.97 569.02,1023.08 569.49,1022.19 C569.97,1021.31 570.45,1020.42 570.94,1019.54 C571.43,1018.66 571.92,1017.79 572.41,1016.91 C572.91,1016.03 573.41,1015.16 573.91,1014.29 C574.41,1013.41 574.91,1012.54 575.41,1011.67 C575.91,1010.80 576.42,1009.93 576.92,1009.06 C577.42,1008.19 577.92,1007.32 578.42,1006.45 C578.92,1005.57 579.42,1004.70 579.92,1003.83 C580.42,1002.96 580.92,1002.09 581.41,1001.22 C581.91,1000.35 582.41,999.48 582.91,998.61 C583.41,997.74 583.90,996.87 584.40,996.00 C584.90,995.12 585.40,994.25 585.90,993.38 C586.40,992.51 586.90,991.64 587.40,990.77 C587.90,989.90 588.41,989.03 588.91,988.16 C589.42,987.30 589.92,986.43 590.43,985.56 C590.94,984.69 591.45,983.82 591.96,982.95 C592.47,982.09 592.99,981.22 593.50,980.35 C594.02,979.48 594.54,978.62 595.06,977.75 C595.58,976.89 596.10,976.02 596.64,975.16 C597.18,974.31 597.72,973.45 598.29,972.62 C598.87,971.79 599.45,970.97 600.07,970.19 C600.69,969.40 601.33,968.63 602.02,967.90 C602.71,967.17 603.43,966.46 604.21,965.81 C604.99,965.16 605.82,964.51 606.69,963.98 C607.56,963.45 608.50,962.92 609.44,962.62 C610.38,962.33 611.37,962.14 612.33,962.21 C613.28,962.28 614.28,962.62 615.18,963.04 C616.08,963.47 616.95,964.10 617.72,964.74 C618.49,965.38 619.15,966.13 619.80,966.91 C620.45,967.68 621.01,968.55 621.61,969.42 C622.20,970.29 622.76,971.25 623.36,972.12 C623.97,972.99 624.56,973.90 625.23,974.65 C625.90,975.40 626.58,976.12 627.36,976.62 C628.14,977.11 628.98,977.48 629.91,977.61 C630.85,977.75 631.94,977.50 632.96,977.44 C633.98,977.38 635.09,977.12 636.04,977.23 C637.00,977.34 637.89,977.65 638.71,978.08 C639.53,978.51 640.27,979.15 640.97,979.82 C641.67,980.50 642.30,981.32 642.89,982.14 C643.49,982.95 644.03,983.84 644.54,984.71 C645.06,985.59 645.53,986.48 645.99,987.39 C646.45,988.29 646.88,989.21 647.30,990.12 C647.73,991.04 648.13,991.97 648.54,992.90 C648.94,993.82 649.35,994.75 649.75,995.68 C650.16,996.60 650.57,997.53 650.98,998.45 C651.38,999.38 651.79,1000.30 652.20,1001.23 C652.60,1002.15 653.00,1003.08 653.40,1004.01 C653.80,1004.93 654.20,1005.86 654.59,1006.79 C654.97,1007.72 655.36,1008.65 655.74,1009.58 C656.12,1010.51 656.49,1011.44 656.85,1012.38 C657.21,1013.32 657.57,1014.25 657.91,1015.19 C658.26,1016.14 658.59,1017.08 658.92,1018.03 C659.24,1018.97 659.56,1019.92 659.86,1020.87 C660.16,1021.83 660.44,1022.78 660.72,1023.75 C660.99,1024.71 661.25,1025.67 661.49,1026.64 C661.74,1027.61 661.97,1028.58 662.18,1029.56 C662.39,1030.54 662.58,1031.53 662.76,1032.52 C662.93,1033.51 663.09,1034.50 663.23,1035.50 C663.38,1036.50 663.51,1037.50 663.63,1038.50 C663.76,1039.51 663.87,1040.52 663.99,1041.52 C664.10,1042.53 664.21,1043.54 664.33,1044.55 C664.44,1045.55 664.55,1046.56 664.68,1047.56 C664.80,1048.57 664.93,1049.57 665.07,1050.57 C665.22,1051.57 665.37,1052.56 665.54,1053.55 C665.72,1054.54 665.90,1055.53 666.12,1056.50 C666.33,1057.48 666.56,1058.45 666.83,1059.42 C667.09,1060.38 667.38,1061.33 667.70,1062.28 C668.02,1063.22 668.38,1064.16 668.77,1065.08 C669.15,1066.01 669.59,1066.92 670.01,1067.84 C670.44,1068.75 670.90,1069.66 671.33,1070.57 C671.75,1071.49 672.19,1072.40 672.59,1073.33 C672.98,1074.26 673.34,1075.19 673.70,1076.13 C674.06,1077.07 674.39,1078.02 674.75,1078.96 C675.11,1079.90 675.45,1080.84 675.84,1081.77 C676.24,1082.69 676.65,1083.62 677.10,1084.52 C677.56,1085.42 678.05,1086.31 678.58,1087.16 C679.12,1088.02 679.68,1088.86 680.29,1089.66 C680.90,1090.46 681.55,1091.22 682.23,1091.96 C682.91,1092.69 683.63,1093.38 684.37,1094.05 C685.12,1094.73 685.90,1095.37 686.68,1095.99 C687.47,1096.62 688.29,1097.22 689.11,1097.82 C689.92,1098.42 690.76,1098.99 691.59,1099.58 C692.42,1100.16 693.25,1100.73 694.08,1101.32 C694.90,1101.90 695.73,1102.48 696.53,1103.08 C697.33,1103.68 698.10,1104.30 698.88,1104.91" stroke="#fd0511" stroke-width="5" fill="none"/>
</svg></body></html>
